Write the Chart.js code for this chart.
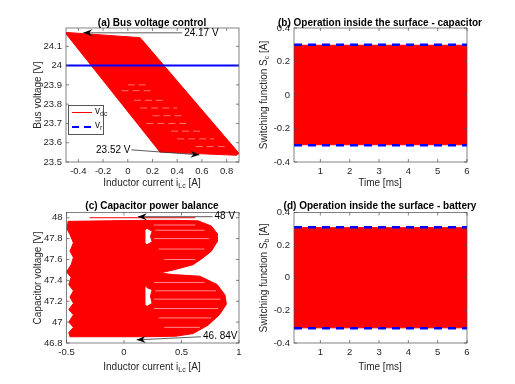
<!DOCTYPE html>
<html>
<head>
<meta charset="utf-8">
<script src="https://cdn.jsdelivr.net/npm/chart.js@4/dist/chart.umd.min.js"></script>
<style>
body { margin: 0; background: #fff; width: 515px; height: 384px; position: relative; overflow: hidden; font-family: 'Liberation Sans', Arial, sans-serif; }
canvas { position: absolute; }
.ttl { position: absolute; font-weight: bold; font-size: 10px; white-space: nowrap; transform: translate(-50%, -50%); color: #000; }
.xl { position: absolute; font-size: 10px; white-space: nowrap; transform: translate(-50%, -50%); color: #262626; }
.yl { position: absolute; font-size: 10px; white-space: nowrap; transform: translate(-50%, -50%) rotate(-90deg); color: #262626; }
sub { font-size: 7px; vertical-align: -2px; line-height: 0; }
.lg { position: absolute; left: 68px; top: 105px; width: 34px; height: 28px; border: 0.6px solid #555; background: #fff; font-size: 10px; color: #262626; }
.lg div { position: absolute; }
</style>
</head>
<body>
<canvas id="ca" width="257" height="192" style="left:0;top:0"></canvas>
<canvas id="cb" width="257" height="192" style="left:257px;top:0"></canvas>
<canvas id="cc" width="257" height="192" style="left:0;top:192px"></canvas>
<canvas id="cd" width="257" height="192" style="left:257px;top:192px"></canvas>

<div class="ttl" style="left:152px;top:22px">(a) Bus voltage control</div>
<div class="ttl" style="left:380px;top:22px">(b) Operation inside the surface - capacitor</div>
<div class="ttl" style="left:152px;top:205px">(c) Capacitor power balance</div>
<div class="ttl" style="left:380px;top:205px">(d) Operation inside the surface - battery</div>

<div class="xl" style="left:152px;top:182px">Inductor current i<sub>Lc</sub> [A]</div>
<div class="xl" style="left:380px;top:182px">Time [ms]</div>
<div class="xl" style="left:152px;top:366px">Inductor current i<sub>Lc</sub> [A]</div>
<div class="xl" style="left:380px;top:366px">Time [ms]</div>

<div class="yl" style="left:37px;top:95px">Bus voltage [V]</div>
<div class="yl" style="left:263px;top:95px">Switching function S<sub>c</sub> [A]</div>
<div class="yl" style="left:37px;top:278px">Capacitor voltage [V]</div>
<div class="yl" style="left:263px;top:278px">Switching function S<sub>b</sub> [A]</div>

<div class="lg">
  <div style="left:3px;top:6px;width:20px;border-top:1px solid #ff0000"></div>
  <div style="left:26px;top:-1px">v<sub>dc</sub></div>
  <div style="left:3px;top:20px;width:7px;border-top:2px solid #0000ff"></div>
  <div style="left:15px;top:20px;width:7px;border-top:2px solid #0000ff"></div>
  <div style="left:26px;top:13px">v<sub>r</sub></div>
</div>

<script>
// (a) bus voltage vs inductor current: outline of the traced region
var busRegionI = [-0.5, 0.1, 0.9, 0.88, 0.26, -0.5];
var busRegionV = [24.172, 24.145, 23.545, 23.535, 23.552, 24.165];
// lighter gaps between trajectory passes (null breaks the line)
var busGapI = [0.0, 0.15, null, -0.05, 0.2, null, 0.05, 0.3, null, 0.1, 0.4, null, 0.2, 0.45, null, 0.15, 0.5, null, 0.35, 0.6, null, 0.4, 0.7, null, 0.55, 0.8];
var busGapV = [23.9, 23.9, null, 23.87, 23.87, null, 23.82, 23.82, null, 23.78, 23.78, null, 23.74, 23.74, null, 23.7, 23.7, null, 23.66, 23.66, null, 23.62, 23.62, null, 23.58, 23.58];
var busRefI = [-0.5, 0.9];
var busRefV = [24, 24];
var busTicksI = [-0.4, -0.2, 0, 0.2, 0.4, 0.6, 0.8];
var busLabelsI = ['-0.4', '-0.2', '0', '0.2', '0.4', '0.6', '0.8'];
var busTicksV = [23.5, 23.6, 23.7, 23.8, 23.9, 24, 24.1];
var busLabelsV = ['23.5', '23.6', '23.7', '23.8', '23.9', '24', '24.1'];

// (b) / (d) switching functions: envelope of the band and the bounds
var timeSpan = [0.1, 6];
var scHigh = [0.297, 0.297];
var scLow = [-0.297, -0.297];
var scBound = [0.3, 0.3];
var sbHigh = [0.307, 0.307];
var sbLow = [-0.307, -0.307];
var sbBound = [0.31, 0.31];
var timeTicks = [1, 2, 3, 4, 5, 6];
var timeLabels = ['1', '2', '3', '4', '5', '6'];
var swTicks = [-0.4, -0.2, 0, 0.2, 0.4];
var swLabels = ['-0.4', '-0.2', '0', '0.2', '0.4'];

// (c) capacitor voltage vs inductor current
var capBlockI = [-0.49, 0.2, 0.2, 0.18, 0.18, 0.2, 0.21, 0.2, 0.18, 0.18, 0.2, 0.2, -0.47, -0.48, -0.44, -0.48, -0.44, -0.48, -0.44, -0.47, -0.44, -0.48, -0.46, -0.5, -0.46, -0.44, -0.47, -0.44, -0.47, -0.5];
var capBlockV = [47.965, 47.975, 47.9, 47.88, 47.76, 47.74, 47.5, 47.35, 47.33, 47.17, 47.15, 46.86, 46.86, 46.9, 46.95, 47.0, 47.07, 47.12, 47.18, 47.24, 47.3, 47.36, 47.43, 47.48, 47.55, 47.62, 47.68, 47.76, 47.84, 47.9];
var capLobeI = [0.2, 0.45, 0.645, 0.76, 0.81, 0.81, 0.76, 0.68, 0.6, 0.43, 0.31, 0.43, 0.66, 0.81, 0.878, 0.89, 0.83, 0.73, 0.6, 0.45, 0.2, 0.2, 0.245, 0.23, 0.245, 0.2, 0.2, 0.245, 0.23, 0.245, 0.2];
var capLobeV = [47.975, 47.975, 47.97, 47.92, 47.85, 47.77, 47.68, 47.61, 47.55, 47.5, 47.47, 47.455, 47.44, 47.36, 47.26, 47.17, 47.07, 46.97, 46.89, 46.865, 46.86, 47.15, 47.18, 47.25, 47.31, 47.33, 47.74, 47.77, 47.82, 47.87, 47.9];
// lighter gaps inside the two lobes
var capGapI = [0.26, 0.62, null, 0.27, 0.7, null, 0.26, 0.74, null, 0.3, 0.7, null, 0.35, 0.62, null, 0.26, 0.7, null, 0.27, 0.8, null, 0.26, 0.84, null, 0.26, 0.82, null, 0.3, 0.76, null, 0.35, 0.66];
var capGapV = [47.93, 47.93, null, 47.88, 47.88, null, 47.8, 47.8, null, 47.7, 47.7, null, 47.6, 47.6, null, 47.38, 47.38, null, 47.3, 47.3, null, 47.22, 47.22, null, 47.13, 47.13, null, 47.04, 47.04, null, 46.95, 46.95];
var capTopI = [-0.3, 0.62];
var capTopV = [48.0, 48.0];
var capTicksI = [-0.5, 0, 0.5, 1];
var capLabelsI = ['-0.5', '0', '0.5', '1'];
var capTicksV = [46.8, 47, 47.2, 47.4, 47.6, 47.8, 48];
var capLabelsV = ['46.8', '47', '47.2', '47.4', '47.6', '47.8', '48'];

// arrow notes
var busNotes = [
    {text: '24.17 V', tail: [0.44, 24.17], head: [-0.36, 24.17], side: 'right'},
    {text: '23.52 V', tail: [0.03, 23.563], head: [0.58, 23.537], side: 'left'}
];
var capNotes = [
    {text: '48 V', tail: [0.77, 48.01], head: [0.12, 48.01], side: 'right'},
    {text: '46. 84V', tail: [0.67, 46.86], head: [0.11, 46.83], side: 'right'}
];

Chart.defaults.font.family = "'Liberation Sans', Arial, sans-serif";

function pts(xs, ys) {
    return xs.map(function (x, i) { return {x: x, y: ys[i]}; });
}

function neg(arr) {
    return arr.map(function (v) { return -v; });
}

// axes box with inner ticks, like matlab
var boxPlugin = {
    id: 'box',
    afterDraw: function (chart) {
        var ctx = chart.ctx, a = chart.chartArea, sx = chart.scales.x, sy = chart.scales.y;
        ctx.save();
        ctx.strokeStyle = '#4d4d4d';
        ctx.lineWidth = 0.7;
        ctx.strokeRect(a.left, a.top, a.right - a.left, a.bottom - a.top);
        ctx.beginPath();
        sx.ticks.forEach(function (t) {
            var p = sx.getPixelForValue(t.value);
            ctx.moveTo(p, a.bottom); ctx.lineTo(p, a.bottom - 3);
            ctx.moveTo(p, a.top); ctx.lineTo(p, a.top + 3);
        });
        sy.ticks.forEach(function (t) {
            var p = sy.getPixelForValue(t.value);
            ctx.moveTo(a.left, p); ctx.lineTo(a.left + 3, p);
            ctx.moveTo(a.right, p); ctx.lineTo(a.right - 3, p);
        });
        ctx.stroke();
        ctx.restore();
    }
};

var notePlugin = {
    id: 'notes',
    afterDraw: function (chart, args, opts) {
        var items = opts.items || [];
        var ctx = chart.ctx, sx = chart.scales.x, sy = chart.scales.y;
        items.forEach(function (n) {
            var tx = sx.getPixelForValue(n.tail[0]), ty = sy.getPixelForValue(n.tail[1]);
            var hx = sx.getPixelForValue(n.head[0]), hy = sy.getPixelForValue(n.head[1]);
            var ang = Math.atan2(hy - ty, hx - tx);
            ctx.save();
            ctx.strokeStyle = '#333';
            ctx.lineWidth = 0.8;
            ctx.beginPath();
            ctx.moveTo(tx, ty);
            ctx.lineTo(hx, hy);
            ctx.stroke();
            // arrow head
            ctx.translate(hx, hy);
            ctx.rotate(ang);
            ctx.fillStyle = '#000';
            ctx.beginPath();
            ctx.moveTo(0, 0);
            ctx.lineTo(-9, -3.5);
            ctx.lineTo(-6, 0);
            ctx.lineTo(-9, 3.5);
            ctx.closePath();
            ctx.fill();
            ctx.restore();
            ctx.save();
            ctx.fillStyle = '#000';
            ctx.font = "10px 'Liberation Sans', Arial, sans-serif";
            ctx.textBaseline = 'middle';
            ctx.textAlign = n.side === 'right' ? 'left' : 'right';
            ctx.fillText(n.text, tx + (n.side === 'right' ? 2 : -1), ty);
            ctx.restore();
        });
    }
};

function axis(min, max, ticks, labels, isY, size) {
    return {
        type: 'linear',
        min: min,
        max: max,
        grid: {display: false, drawTicks: false},
        border: {display: false},
        afterBuildTicks: function (s) { s.ticks = ticks.map(function (v) { return {value: v}; }); },
        afterFit: function (s) { if (isY) s.width = size; else s.height = size; },
        ticks: {
            autoSkip: false, maxRotation: 0, padding: 4, color: '#262626',
            font: {size: 9.5},
            callback: function (v, i) { return labels[i]; }
        }
    };
}

function makeChart(id, datasets, scales, pad, notes) {
    var ctx = document.getElementById(id).getContext('2d');
    return new Chart(ctx, {
        type: 'scatter',
        data: {datasets: datasets},
        options: {
            responsive: false,
            animation: false,
            events: [],
            layout: {padding: pad},
            elements: {point: {radius: 0}, line: {tension: 0}},
            scales: scales,
            plugins: {legend: {display: false}, tooltip: {enabled: false}, notes: {items: notes}}
        },
        plugins: [boxPlugin, notePlugin]
    });
}

// (a)
makeChart('ca', [
    {data: pts(busRefI, busRefV), showLine: true, borderColor: '#0000ff', borderWidth: 2, order: 1},
    {data: pts(busGapI, busGapV), showLine: true, spanGaps: false, borderColor: 'rgba(255,255,255,0.45)',
        borderWidth: 1, borderDash: [7, 4], order: 2},
    {data: pts(busRegionI, busRegionV), showLine: true, borderColor: '#ff0000', borderWidth: 1,
        backgroundColor: '#ff0000', fill: 'shape', order: 3}
], {
    x: axis(-0.5, 0.9, busTicksI, busLabelsI, false, 16),
    y: axis(23.5, 24.195, busTicksV, busLabelsV, true, 40)
}, {left: 26, right: 18, top: 28, bottom: 14}, busNotes);

function switchChart(id, high, low, bound, pad) {
    makeChart(id, [
        {data: pts(timeSpan, bound), showLine: true, borderColor: '#0000ff', borderWidth: 2.5, borderDash: [8, 6], order: 1},
        {data: pts(timeSpan, neg(bound)), showLine: true, borderColor: '#0000ff', borderWidth: 2.5, borderDash: [8, 6], order: 1},
        {data: pts(timeSpan, high), showLine: true, borderColor: '#ff0000', borderWidth: 1, order: 3},
        {data: pts(timeSpan, low), showLine: true, borderColor: '#ff0000', borderWidth: 1,
            backgroundColor: '#ff0000', fill: '-1', order: 2}
    ], {
        x: axis(0.1, 6, timeTicks, timeLabels, false, 16),
        y: axis(-0.4, 0.4, swTicks, swLabels, true, 30)
    }, pad, []);
}

// (b), (d)
switchChart('cb', scHigh, scLow, scBound, {left: 7, right: 47, top: 28, bottom: 14});
switchChart('cd', sbHigh, sbLow, sbBound, {left: 7, right: 47, top: 20.5, bottom: 25});

// (c)
makeChart('cc', [
    {data: pts(capTopI, capTopV), showLine: true, borderColor: '#ff0000', borderWidth: 1, order: 1},
    {data: pts(capGapI, capGapV), showLine: true, spanGaps: false, borderColor: 'rgba(255,255,255,0.55)',
        borderWidth: 1, order: 2},
    {data: pts(capBlockI, capBlockV), showLine: true, borderColor: '#ff0000', borderWidth: 1,
        backgroundColor: '#ff0000', fill: 'shape', order: 3},
    {data: pts(capLobeI, capLobeV), showLine: true, borderColor: '#ff0000', borderWidth: 1,
        backgroundColor: '#ff0000', fill: 'shape', order: 4}
], {
    x: axis(-0.5, 1, capTicksI, capLabelsI, false, 16),
    y: axis(46.8, 48.05, capTicksV, capLabelsV, true, 40)
}, {left: 26.5, right: 18, top: 20.5, bottom: 25}, capNotes);
</script>
</body>
</html>
